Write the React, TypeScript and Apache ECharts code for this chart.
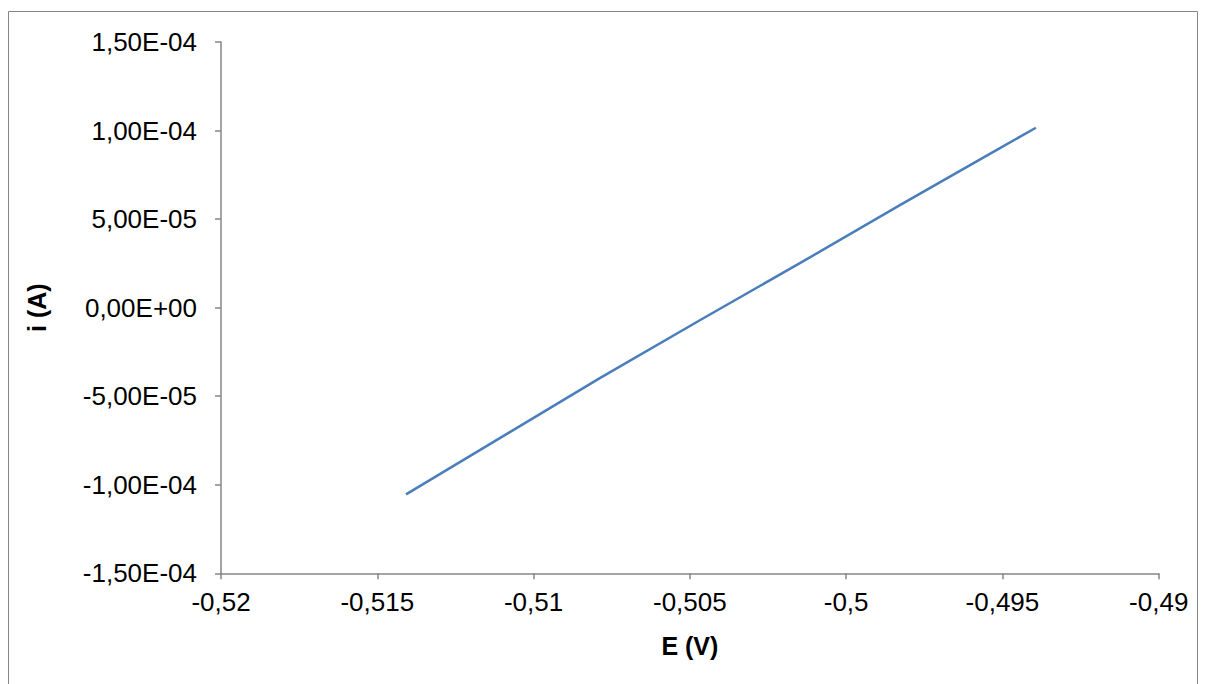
import React, { useEffect, useRef } from "react";
import * as echarts from "echarts";

// Potential E (V) and current i (A)
const potentials: number[] = [-0.51408, -0.51108, -0.50788, -0.50468, -0.50148, -0.49828, -0.49508, -0.49393];
const currents: number[] = [-1.054e-4, -7.37e-5, -3.98e-5, -7.1e-6, 2.51e-5, 5.79e-5, 9.01e-5, 1.016e-4];

const xTitle = "E (V)";
const yTitle = "i (A)";

const fmtY = (v: number): string => {
  const s = v.toExponential(2); // e.g. "1.50e-4"
  const [mant, exp] = s.split("e");
  const e = parseInt(exp, 10);
  const sign = e < 0 ? "-" : "+";
  const ee = String(Math.abs(e)).padStart(2, "0");
  return mant.replace(".", ",") + "E" + sign + ee;
};

const fmtX = (v: number): string => {
  const r = Number(v.toFixed(4));
  return String(r).replace(".", ",");
};

export default function App() {
  const ref = useRef<HTMLDivElement>(null);
  useEffect(() => {
    if (!ref.current) return;
    const chart = echarts.init(ref.current, undefined, { renderer: "svg" });
    const axisColor = "#868686";
    const font = "'Liberation Sans', Arial, sans-serif";
    chart.setOption({
      animation: false,
      backgroundColor: "#ffffff",
      grid: { left: 213, top: 34, right: 39.3, bottom: 110.7, containLabel: false },
      graphic: [
        {
          type: "rect",
          shape: { x: 0.5, y: 3.5, width: 1189, height: 720 },
          style: { fill: "none", stroke: axisColor, lineWidth: 1 },
          silent: true,
          z: -10,
        },
      ],
      xAxis: {
        type: "value",
        min: -0.52,
        max: -0.49,
        interval: 0.005,
        name: xTitle,
        nameLocation: "middle",
        nameGap: 60,
        nameTextStyle: { fontFamily: font, fontSize: 25, fontWeight: "bold", color: "#000" },
        axisLine: { onZero: false, lineStyle: { color: axisColor, width: 1.5 } },
        axisTick: { show: true, inside: false, length: 6, lineStyle: { color: axisColor, width: 1.5 } },
        axisLabel: { formatter: fmtX, fontFamily: font, fontSize: 26, color: "#000", margin: 16 },
        splitLine: { show: false },
      },
      yAxis: {
        type: "value",
        min: -1.5e-4,
        max: 1.5e-4,
        interval: 5e-5,
        name: yTitle,
        nameLocation: "middle",
        nameGap: 172,
        nameRotate: 90,
        nameTextStyle: { fontFamily: font, fontSize: 25, fontWeight: "bold", color: "#000" },
        axisLine: { onZero: false, lineStyle: { color: axisColor, width: 1.5 } },
        axisTick: { show: true, inside: false, length: 6, lineStyle: { color: axisColor, width: 1.5 } },
        axisLabel: { formatter: fmtY, fontFamily: font, fontSize: 26, color: "#000", margin: 24 },
        splitLine: { show: false },
      },
      series: [
        {
          type: "line",
          data: potentials.map((e, k) => [e, currents[k]]),
          showSymbol: false,
          symbol: "none",
          lineStyle: { color: "#4a7ebb", width: 2.5 },
          itemStyle: { color: "#4a7ebb" },
        },
      ],
    });
    return () => chart.dispose();
  }, []);
  return <div ref={ref} style={{ width: 1190, height: 676 }} />;
}
